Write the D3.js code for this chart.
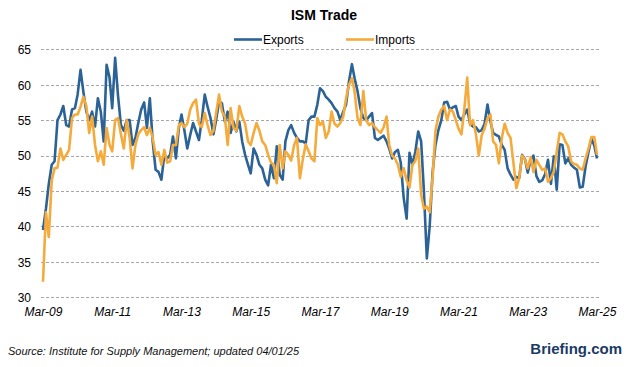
<!DOCTYPE html>
<html lang="en">
<head>
<meta charset="UTF-8">
<title>ISM Trade</title>
<script src="https://d3js.org/d3.v7.min.js"></script>
<style>
  body { margin: 0; background: #fff; }
  svg text { font-family: "Liberation Sans", Arial, sans-serif; }
</style>
</head>
<body>
<div id="chart"></div>
<script>
// monthly readings, first point is Mar 2009, last is Mar 2025
var startMonth = new Date(2009, 2, 1);

var exportsIdx = [
  39.5, 42.5, 46.0, 48.7, 49.2, 55.0, 55.8, 57.0, 54.3, 54.1,
  56.5, 56.7, 58.6, 62.1, 59.0, 56.2, 55.0, 56.2, 54.1, 58.1,
  56.2, 52.0, 62.8, 61.0, 56.7, 63.8, 58.5, 54.3, 53.5, 55.0,
  55.0, 51.5, 52.5, 54.6, 56.5, 57.5, 53.9, 58.1, 52.0, 48.0,
  47.7, 46.6, 50.1, 49.6, 50.1, 52.7, 49.6, 53.9, 55.8, 53.5,
  51.0, 52.9, 54.6, 53.4, 52.2, 55.0, 58.6, 56.9, 55.3, 53.0,
  55.0, 57.6, 57.4, 54.8, 56.2, 53.2, 54.8, 53.4, 54.8, 52.0,
  50.1, 48.7, 47.5, 51.0, 50.1, 48.7, 48.2, 46.6, 45.8, 48.7,
  46.8, 51.3, 47.3, 46.6, 52.0, 53.6, 54.3, 53.2, 52.5, 52.0,
  52.0, 51.7, 55.0, 55.5, 55.5, 57.2, 59.5, 59.1, 58.3, 57.9,
  57.4, 56.7, 56.2, 55.0, 56.2, 57.2, 60.5, 62.9, 60.9, 59.1,
  56.7, 55.3, 55.0, 55.5, 56.0, 52.5, 52.2, 52.5, 52.8, 52.0,
  51.0, 49.6, 50.5, 50.8, 49.0, 44.0, 41.1, 50.4, 48.7, 50.5,
  53.4, 52.0, 45.0, 35.5, 40.0, 47.7, 51.5, 53.6, 55.0, 57.5,
  57.6, 56.5, 56.8, 57.0, 55.5, 55.0, 55.8, 56.5, 54.5, 54.1,
  54.0, 53.4, 53.6, 54.5, 57.2, 54.8, 53.2, 52.9, 52.7, 51.5,
  50.8, 48.2, 47.3, 46.6, 47.0, 46.8, 50.1, 49.5, 47.6, 49.4,
  50.0, 47.1, 46.3, 46.5, 47.4, 49.4, 46.0, 49.9, 45.2, 51.6,
  51.5, 48.9, 49.6, 48.7, 48.3, 48.0, 45.5, 45.6, 48.5, 50.5,
  52.4, 51.4, 49.6
];

var importsIdx = [
  32.2, 42.0, 38.5, 46.5, 48.2, 48.3, 51.0, 49.4, 50.1, 50.8,
  55.3, 55.8, 55.8, 56.9, 58.3, 57.0, 53.2, 55.5, 51.5, 49.2,
  50.6, 48.7, 53.9, 51.5, 50.6, 55.0, 55.3, 53.0, 51.0, 55.0,
  52.5, 48.2, 51.5, 53.0, 53.6, 54.0, 52.9, 53.9, 52.5, 50.1,
  50.5, 48.7, 50.8, 49.0, 49.2, 51.5, 51.5, 54.3, 54.6, 54.0,
  54.5, 56.5, 57.4, 57.9, 54.5, 54.0, 56.0, 54.3, 52.9, 53.5,
  56.0, 58.6, 56.2, 55.5, 51.5, 56.7, 53.9, 53.5, 57.0, 55.5,
  54.5, 52.0, 51.5, 53.2, 54.6, 53.5, 52.0, 51.5, 50.1, 49.0,
  48.7, 46.1, 51.5, 48.2, 50.6, 50.1, 49.3, 51.5, 52.5, 46.8,
  49.5, 51.6, 50.6, 49.6, 49.2, 55.3, 54.3, 54.8, 52.5, 53.4,
  56.2, 54.5, 54.1, 54.6, 55.5, 58.1, 60.0, 60.9, 59.0, 55.3,
  54.3, 59.1, 55.0, 54.3, 54.6, 54.0, 53.6, 53.2, 54.0, 55.5,
  51.5, 50.0, 49.6, 48.7, 47.0, 48.2, 46.5, 45.5, 48.7, 49.2,
  51.0, 44.5, 42.5, 42.8, 42.0, 47.0, 53.5, 55.5, 56.5, 57.0,
  55.0, 56.5, 56.2, 55.0, 53.8, 53.0, 56.5, 61.0, 54.3, 55.0,
  53.0, 50.0, 52.9, 53.8, 55.3, 55.8, 52.0, 51.5, 48.9, 52.5,
  54.5, 53.2, 52.5, 49.0, 45.4, 46.8, 50.0, 49.4, 48.2, 49.8,
  47.7, 49.4, 48.7, 48.0, 48.2, 46.3, 46.8, 47.7, 50.5, 53.2,
  53.0, 52.0, 51.3, 49.2, 48.8, 48.7, 48.2, 48.0, 49.6, 51.0,
  52.6, 52.6, 50.1
];

var seriesNames = ["Exports", "Imports"];
var seriesColors = ["#2c6396", "#f5aa3c"];
var yTicks = [30, 35, 40, 45, 50, 55, 60, 65];
var tickLabels = ["Mar-09", "Mar-11", "Mar-13", "Mar-15", "Mar-17", "Mar-19", "Mar-21", "Mar-23", "Mar-25"];

var chartW = 626, chartH = 367;
var plotLeft = 43, plotRight = 597, plotTop = 49.3, plotBottom = 297.3;

var svg = d3.select("#chart").append("svg")
  .attr("width", chartW)
  .attr("height", chartH);

var months = exportsIdx.map(function(d, i) { return d3.timeMonth.offset(startMonth, i); });

var x = d3.scaleTime()
  .domain([months[0], months[months.length - 1]])
  .range([plotLeft, plotRight]);

var y = d3.scaleLinear()
  .domain([30, 65])
  .range([plotBottom, plotTop]);

// dashed horizontal grid
svg.append("g")
  .selectAll("line")
  .data(yTicks)
  .enter()
  .append("line")
    .attr("x1", 41)
    .attr("x2", 601)
    .attr("y1", function(d) { return Math.round(y(d)) + 0.5; })
    .attr("y2", function(d) { return Math.round(y(d)) + 0.5; })
    .style("stroke", "#a6a6a6")
    .style("stroke-width", 1)
    .style("stroke-dasharray", "3,2");

// y axis labels
var yAxis = svg.append("g")
  .attr("transform", "translate(31,0)")
  .call(d3.axisLeft(y).tickValues(yTicks).tickSize(0).tickPadding(0));
yAxis.select(".domain").remove();
yAxis.selectAll("text")
  .style("font-size", "12px")
  .style("fill", "#000")
  .attr("dy", "0.36em");

// x axis labels
var tickDates = tickLabels.map(function(t, i) { return d3.timeMonth.offset(startMonth, i * 24); });
var xAxis = svg.append("g")
  .attr("transform", "translate(0,307)")
  .call(d3.axisBottom(x).tickValues(tickDates).tickSize(0).tickPadding(0)
    .tickFormat(function(d, i) { return tickLabels[i]; }));
xAxis.select(".domain").remove();
xAxis.selectAll("text")
  .style("font-size", "12px")
  .style("font-style", "italic")
  .style("fill", "#000");

// lines
var line = d3.line()
  .x(function(d, i) { return x(months[i]); })
  .y(function(d) { return y(d); });

[exportsIdx, importsIdx].forEach(function(s, k) {
  svg.append("path")
    .datum(s)
    .attr("d", line)
    .style("fill", "none")
    .style("stroke", seriesColors[k])
    .style("stroke-width", 2.6)
    .style("stroke-linejoin", "round");
});

// title
svg.append("text")
  .attr("x", 324)
  .attr("y", 20)
  .attr("text-anchor", "middle")
  .style("font-size", "14px")
  .style("font-weight", "bold")
  .text("ISM Trade");

// legend
var legendX = [234, 346];
seriesNames.forEach(function(n, k) {
  svg.append("line")
    .attr("x1", legendX[k])
    .attr("x2", legendX[k] + 28)
    .attr("y1", 39.5)
    .attr("y2", 39.5)
    .style("stroke", seriesColors[k])
    .style("stroke-width", 2.6);
  svg.append("text")
    .attr("x", legendX[k] + 29)
    .attr("y", 44)
    .style("font-size", "12px")
    .text(n);
});

// footer
svg.append("text")
  .attr("x", 8)
  .attr("y", 355)
  .style("font-size", "11px")
  .style("font-style", "italic")
  .style("fill", "#111")
  .text("Source: Institute for Supply Management; updated 04/01/25");

svg.append("text")
  .attr("x", 622)
  .attr("y", 354)
  .attr("text-anchor", "end")
  .style("font-size", "15px")
  .style("font-weight", "bold")
  .style("fill", "#1c3a63")
  .text("Briefing.com");
</script>
</body>
</html>
